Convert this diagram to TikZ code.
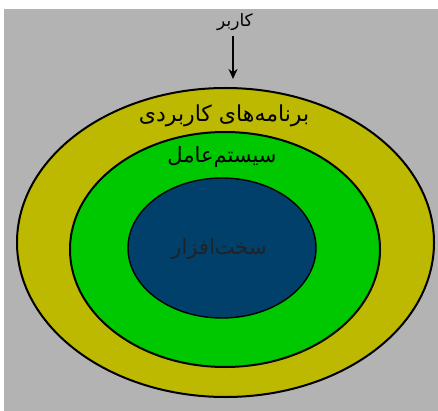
\documentclass[tikz,border=0pt]{standalone}
\usepackage{fontspec}
\usetikzlibrary{shapes.geometric,arrows.meta}
\newfontfamily\arabicfont[Script=Arabic]{DejaVu Sans}
\TeXXeTstate=1
\definecolor{bggray}{HTML}{B3B3B3}
\definecolor{olive}{HTML}{BDB800}
\definecolor{lgreen}{HTML}{00C800}
\definecolor{navy}{HTML}{00406A}
\definecolor{txtgray}{HTML}{222222}
\tikzset{
  ring/.style={ellipse, draw=black, line width=2pt, inner sep=0pt},
  lbl/.style={font=\arabicfont\fontsize{#1}{#1}\selectfont, text=black, inner sep=0pt},
}
\begin{document}
\begin{tikzpicture}[x=1pt,y=-1pt]
\useasboundingbox (0,0) rectangle (438,411);
\fill[bggray] (4,9) rectangle (438,411);
\node[ring, fill=olive, minimum width=417pt, minimum height=309pt] (outer) at (225.5,242.5) {};
\node[ring, fill=lgreen, minimum width=310pt, minimum height=235pt] (middle) at (225,249.5) {};
\node[ring, fill=navy, line width=1.4pt, minimum width=188pt, minimum height=140pt] (inner) at (222,248) {};
\node[lbl=17] (user) at (235,22) {\beginR کاربر\endR};
\coordinate (tip) at (233,79);
\draw[line width=2pt, -{Stealth[length=10pt,width=9pt]}] (233,36) -- (tip);
\node[lbl=22] (apps) at (224,116) {\beginR برنامه^^^^200cهای کاربردی\endR};
\node[lbl=21] (os) at (222,157) {\beginR سیستم^^^^200cعامل\endR};
\node[lbl=21, text=txtgray] (hw) at (219,249) {\beginR سخت^^^^200cافزار\endR};
\end{tikzpicture}
\end{document}
